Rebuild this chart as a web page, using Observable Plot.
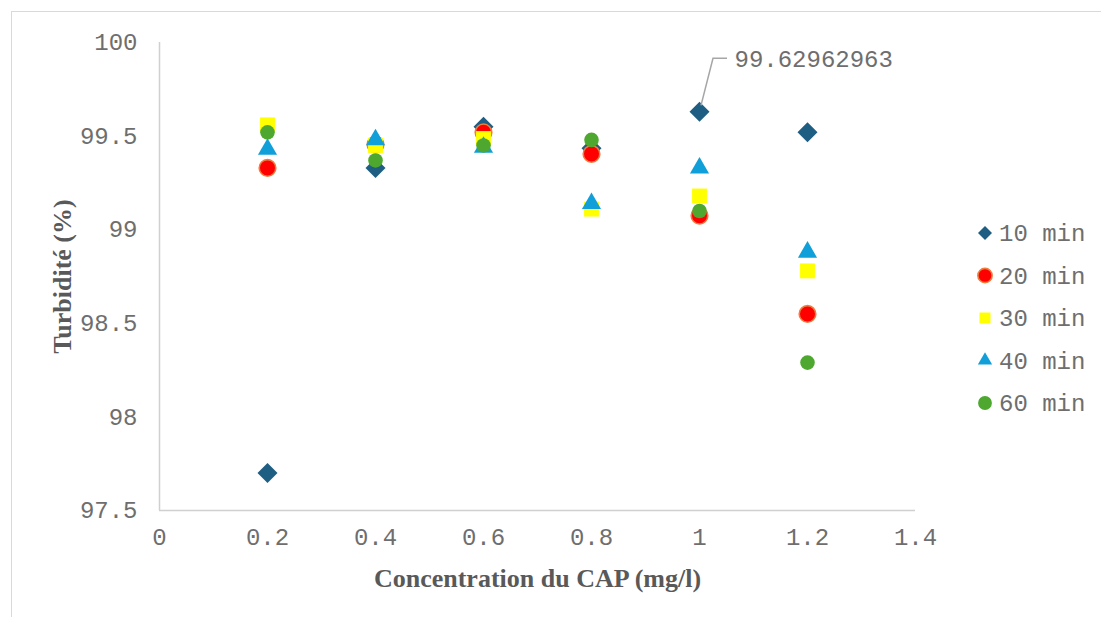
<!DOCTYPE html>
<html><head><meta charset="utf-8">
<script src="https://cdn.jsdelivr.net/npm/d3@7"></script>
<script src="https://cdn.jsdelivr.net/npm/@observablehq/plot@0.6"></script>
<style>
body{margin:0;background:#fff;}
#wrap{position:relative;width:1101px;height:617px;overflow:hidden;background:#fff;}
#chart{position:absolute;left:0;top:0;}
#frame{position:absolute;left:11px;top:11px;width:1200px;height:700px;border:1.5px solid #d9d9d9;box-sizing:border-box;pointer-events:none}
#legend{position:absolute;left:965px;top:210px;overflow:visible}
</style></head><body>
<div id="wrap"><div id="chart"></div><div id="frame"></div><svg id="legend" width="135" height="215"></svg></div>
<script>
// ---- data ----
const concentrations = [0.2, 0.4, 0.6, 0.8, 1.0, 1.2];
const t10 = [97.70, 99.33, 99.55, 99.435, 99.62962963, 99.52];
const t20 = [99.33, 99.455, 99.52, 99.405, 99.075, 98.55];
const t30 = [99.56, 99.45, 99.487, 99.11, 99.18, 98.78];
const t40 = [99.43, 99.48, 99.44, 99.14, 99.33, 98.88];
const t60 = [99.52, 99.37, 99.45, 99.48, 99.10, 98.29];
const seriesNames = ["10 min", "20 min", "30 min", "40 min", "60 min"];
const xTicks = [0, 0.2, 0.4, 0.6, 0.8, 1, 1.2, 1.4];
const yTicks = [97.5, 98, 98.5, 99, 99.5, 100];
const xTitle = "Concentration du CAP (mg/l)";
const yTitle = "Turbidité (%)";
const annotatedSeries = "10 min";
const annotatedIndex = 4;
const annotationText = "99.62962963";

// ---- styles ----
const styles = {
  "10 min": {symbol: "diamond2", r: 9, fill: "#1d5e82", stroke: "none", sw: 0, legendSize: 125},
  "20 min": {symbol: "circle", r: 8.3, fill: "#ff0000", stroke: "#ef7d3e", sw: 1.6, legendSize: 160},
  "30 min": {symbol: "square", r: 8.4, fill: "#ffff00", stroke: "none", sw: 0, legendSize: 121},
  "40 min": {symbol: "triangle", r: 7.1, fill: "#109fd8", stroke: "none", sw: 0, legendSize: 88},
  "60 min": {symbol: "circle", r: 7.3, fill: "#4ea72e", stroke: "none", sw: 0, legendSize: 150}
};
const values = [t10, t20, t30, t40, t60];
const rows = seriesNames.flatMap((s, i) => concentrations.map((c, j) => ({series: s, x: c, y: values[i][j], idx: j})));

const mono = "'Liberation Mono', 'Courier New', monospace";
const serif = "'Liberation Serif', 'Times New Roman', serif";
const txtColor = "#6e6e6e";
const titleColor = "#595959";

const dotMarks = seriesNames.map(s => {
  const st = styles[s];
  return Plot.dot(rows.filter(d => d.series === s), {
    x: "x", y: "y", symbol: st.symbol, r: st.r, fill: st.fill,
    stroke: st.stroke, strokeWidth: st.sw
  });
});

const annotated = rows.filter(d => d.series === annotatedSeries && d.idx === annotatedIndex);

const leader = (index, scales) => {
  const p = annotated[0];
  const cx = scales.x(p.x), cy = scales.y(p.y);
  const g = d3.create("svg:path")
    .attr("d", `M${cx + 2},${cy - 6}L${cx + 14},${cy - 53}L${cx + 28},${cy - 53}`)
    .attr("fill", "none").attr("stroke", "#a6a6a6").attr("stroke-width", 1.5);
  return g.node();
};

const chart = Plot.plot({
  width: 1101, height: 617,
  marginLeft: 159, marginRight: 186, marginTop: 42, marginBottom: 107,
  x: {domain: [0, 1.4], ticks: xTicks, tickFormat: d => String(d), tickSize: 0, tickPadding: 17, label: null},
  y: {domain: [97.5, 100], ticks: yTicks, tickFormat: d => String(d), tickSize: 0, tickPadding: 22, label: null},
  style: {fontFamily: mono, fontSize: "24px", color: txtColor, background: "transparent", overflow: "visible"},
  marks: [
    Plot.ruleX([0], {stroke: "#d0d0d0", strokeWidth: 1.5}),
    Plot.ruleY([97.5], {stroke: "#d0d0d0", strokeWidth: 1.5}),
    ...dotMarks,
    leader,
    Plot.text(annotated, {x: "x", y: "y", text: () => annotationText, dx: 35, dy: -53, textAnchor: "start",
      fontFamily: mono, fontSize: 24, fill: txtColor}),
    Plot.text([xTitle], {frameAnchor: "bottom", dy: 68, text: d => d, textAnchor: "middle", lineAnchor: "middle",
      fontFamily: serif, fontWeight: "bold", fontSize: 26, fill: titleColor}),
    Plot.text([yTitle], {frameAnchor: "left", dx: -97, rotate: -90, text: d => d, textAnchor: "middle", lineAnchor: "middle",
      fontFamily: serif, fontWeight: "bold", fontSize: 26, fill: titleColor})
  ]
});
document.getElementById("chart").appendChild(chart);

// ---- legend ----
const symMap = {diamond2: d3.symbolDiamond2, circle: d3.symbolCircle, square: d3.symbolSquare, triangle: d3.symbolTriangle};
const lg = d3.select("#legend");
const rowY = d3.scalePoint().domain(seriesNames).range([23, 193]);
seriesNames.forEach(s => {
  const st = styles[s];
  const g = lg.append("g").attr("transform", `translate(20,${rowY(s)})`);
  g.append("path").attr("d", d3.symbol(symMap[st.symbol], st.legendSize)())
    .attr("fill", st.fill).attr("stroke", st.stroke === "none" ? null : st.stroke).attr("stroke-width", st.sw);
  g.append("text").attr("x", 14).attr("dy", "0.35em").text(s)
    .attr("font-family", mono).attr("font-size", 24).attr("fill", txtColor);
});
</script>
</body></html>
